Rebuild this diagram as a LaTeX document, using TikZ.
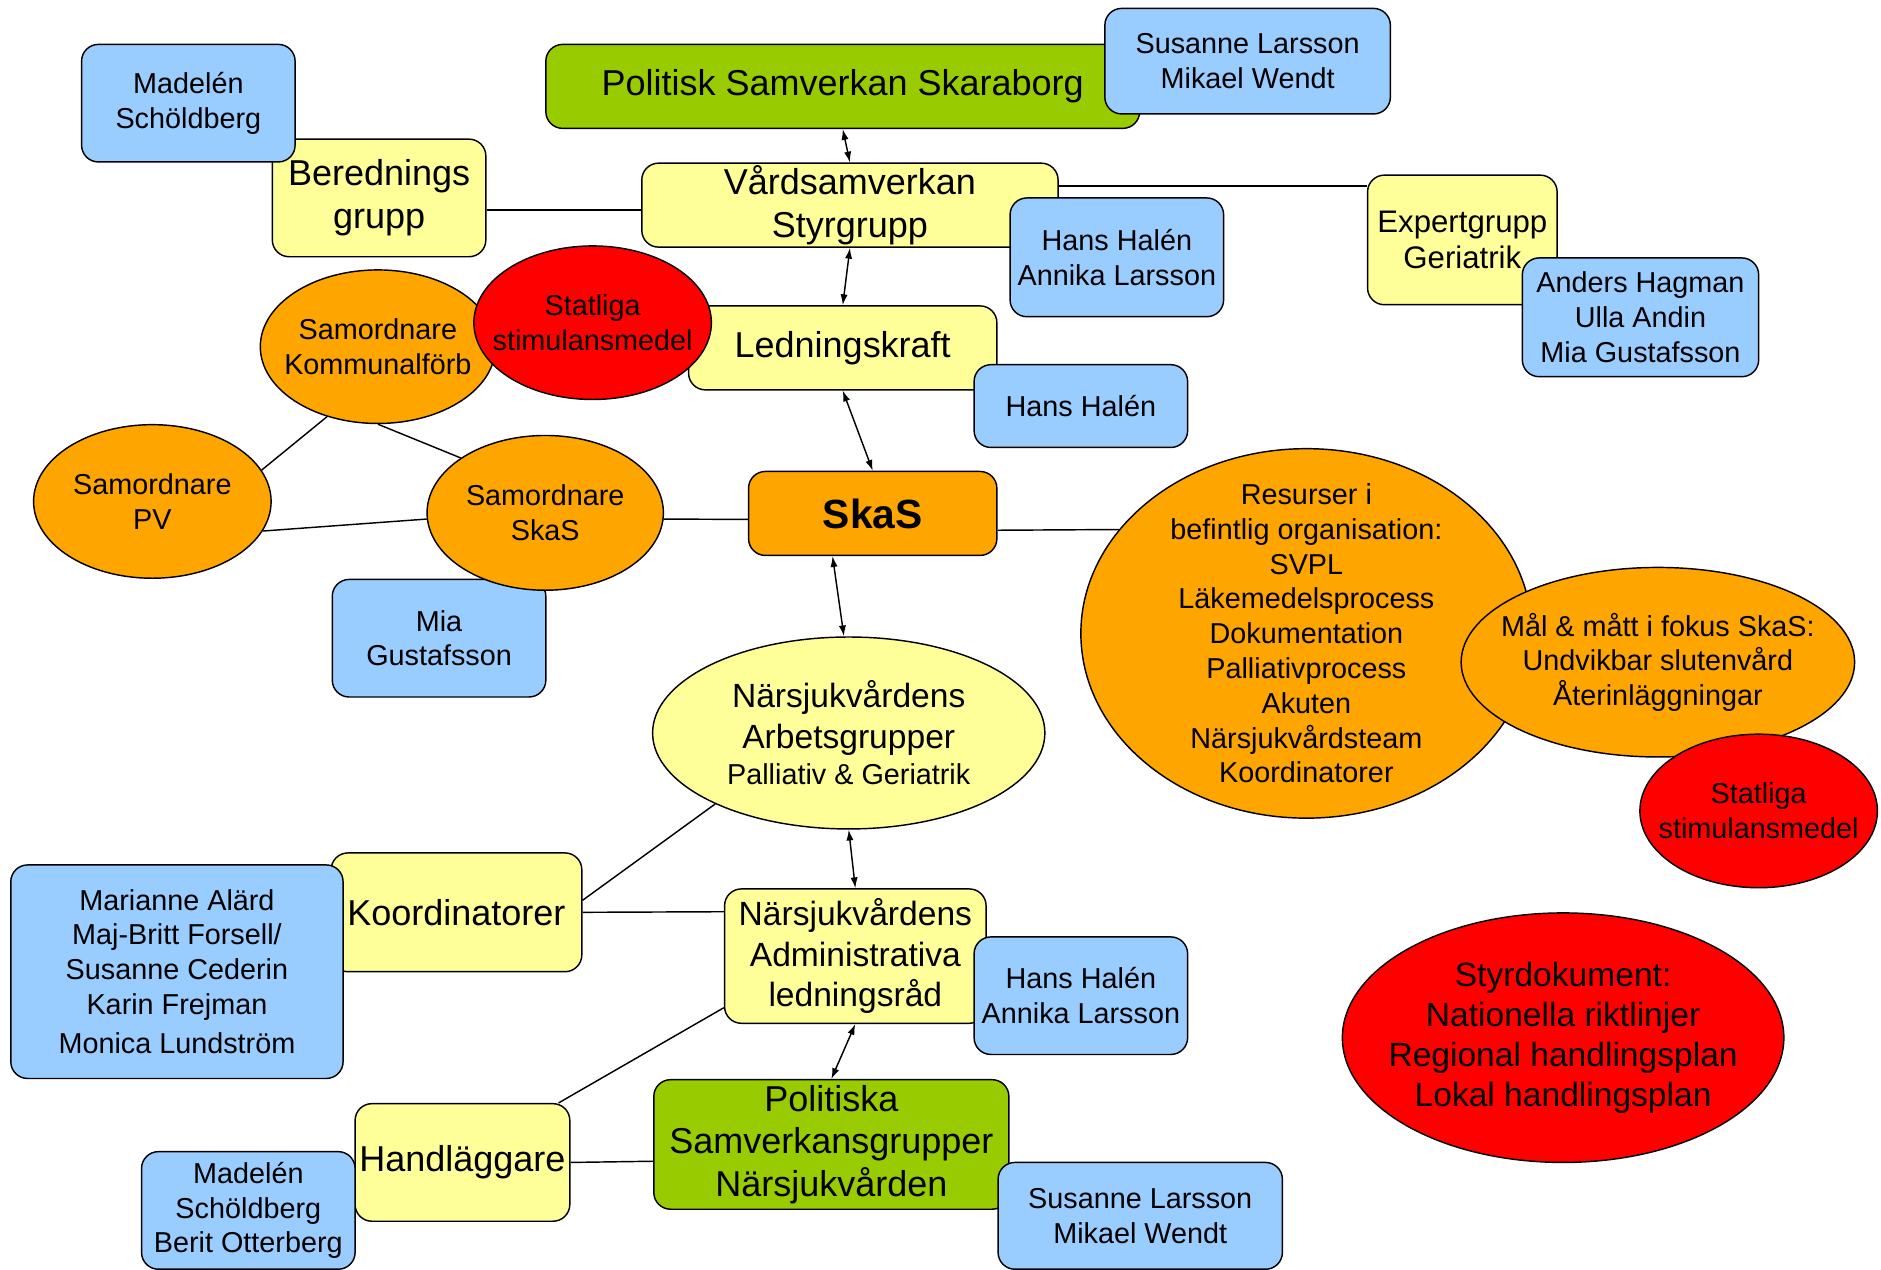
\documentclass[tikz,border=0pt]{standalone}
\usepackage{fontspec}
\setmainfont{Liberation Sans}
\usetikzlibrary{shapes.geometric, arrows.meta}
\definecolor{gul}{HTML}{FFFF99}
\definecolor{bla}{HTML}{99CCFF}
\definecolor{gron}{HTML}{99CC00}
\definecolor{oranj}{HTML}{FFA500}
\definecolor{rod}{HTML}{FF0000}
\newcommand\fliten{\fontsize{24}{29}\selectfont}
\newcommand\fmellan{\fontsize{28}{33.5}\selectfont}
\newcommand\fstor{\fontsize{30}{35.5}\selectfont}
\tikzset{
  ruta/.style={draw, rounded corners=14pt, align=center, inner sep=0pt, line width=1.2pt},
  oval/.style={draw, ellipse, align=center, inner xsep=-40pt, inner ysep=-40pt, line width=1.2pt},
  mått/.style 2 args={minimum width=#1pt, minimum height=#2pt},
  linje/.style={line width=1.2pt},
  pil/.style={<->, >={Latex[length=9pt,width=6pt]}, line width=1.2pt}
}

\begin{document}
\begin{tikzpicture}[x=1pt, y=-1pt]
\useasboundingbox (0,0) rectangle (1568,1058);

% översta nivån
\node[ruta, fill=gron, mått={495}{70}, font=\fstor] (polsam) at (702.5,72) {Politisk Samverkan Skaraborg};
\node[ruta, fill=bla, mått={238}{88}, font=\fliten] (susTop) at (1040,51) {Susanne Larsson\\Mikael Wendt};

% styrgrupp och beredning
\node[ruta, fill=gul, mått={178}{98}, font=\fstor] (bered) at (316,165) {Berednings\\grupp};
\node[ruta, fill=bla, mått={178}{98}, font=\fliten] (madTop) at (157,86) {Madelén\\Schöldberg};
\node[ruta, fill=gul, mått={347}{70}, font=\fstor] (vard) at (708.5,171) {Vårdsamverkan\\Styrgrupp};
\node[ruta, fill=bla, mått={178}{99}, font=\fliten] (hhA1) at (931,214.5) {Hans Halén\\Annika Larsson};
\node[ruta, fill=gul, mått={158}{108}, font=\fontsize{26}{30}\selectfont] (expert) at (1219,200) {Expertgrupp\\Geriatrik};
\node[ruta, fill=bla, mått={197}{99}, font=\fliten] (anders) at (1367.5,264.5) {Anders Hagman\\Ulla Andin\\Mia Gustafsson};

% ledningskraft
\node[ruta, fill=gul, mått={257}{70}, font=\fstor] (ledning) at (702.5,290) {Ledningskraft};
\node[ruta, fill=bla, mått={178}{69}, font=\fliten] (hh2) at (901,338.5) {Hans Halén};
\node[oval, fill=oranj, mått={196}{128}, font=\fliten] (samKom) at (315,289) {Samordnare\\Kommunalförb};
\node[oval, fill=rod, mått={198}{128}, font=\fliten] (stat1) at (494,269) {Statliga\\stimulansmedel};

% samordnare
\node[oval, fill=oranj, mått={198}{128}, font=\fliten] (samPV) at (127,418) {Samordnare\\PV};
\node[ruta, fill=bla, mått={178}{98}, font=\fliten] (mia) at (366,532) {Mia\\Gustafsson};
\node[oval, fill=oranj, mått={197}{129}, font=\fliten] (samSkaS) at (454.5,427.5) {Samordnare\\SkaS};

% SkaS
\node[ruta, fill=oranj, mått={207}{70}, font=\fontsize{34}{40}\selectfont\bfseries] (skas) at (727.5,428) {SkaS};

% resurser och mål
\node[oval, fill=oranj, mått={376}{308}, font=\fliten] (resurser) at (1089,528) {Resurser i\\befintlig organisation:\\SVPL\\Läkemedelsprocess\\Dokumentation\\Palliativprocess\\Akuten\\Närsjukvårdsteam\\Koordinatorer};
\node[oval, fill=oranj, mått={328}{158}, font=\fliten] (mal) at (1382,552) {Mål \& mått i fokus SkaS:\\Undvikbar slutenvård\\Återinläggningar};
\node[oval, fill=rod, mått={198}{128}, font=\fliten] (stat2) at (1466,676) {Statliga\\stimulansmedel};
\node[oval, fill=rod, mått={368}{208}, font=\fmellan] (styr) at (1303,865) {Styrdokument:\\Nationella riktlinjer\\Regional handlingsplan\\Lokal handlingsplan};

% närsjukvården
\node[oval, fill=gul, mått={327}{160}, font=\fmellan] (arbets) at (707.5,611) {Närsjukvårdens\\Arbetsgrupper\\[-3pt]\fliten Palliativ \& Geriatrik};
\node[ruta, fill=gul, mått={218}{112}, font=\fmellan] (adm) at (713,797) {Närsjukvårdens\\Administrativa\\ledningsråd};
\node[ruta, fill=bla, mått={178}{98}, font=\fliten] (hh3) at (901,830) {Hans Halén\\Annika Larsson};
\node[ruta, fill=gul, mått={209}{99}, font=\fstor] (koord) at (380.5,760.5) {Koordinatorer};
\node[ruta, fill=bla, mått={277}{178}, font=\fliten] (marianne) at (147.5,810) {Marianne Alärd\\Maj-Britt Forsell/\\Susanne Cederin\\Karin Frejman\\[4pt]Monica Lundström};
\node[ruta, fill=gron, mått={296}{108}, font=\fstor] (politiska) at (693,954) {Politiska\\Samverkansgrupper\\Närsjukvården};
\node[ruta, fill=bla, mått={237}{89}, font=\fliten] (susBot) at (950.5,1013.5) {Susanne Larsson\\Mikael Wendt};
\node[ruta, fill=gul, mått={179}{98}, font=\fstor] (handl) at (385.5,969) {Handläggare};
\node[ruta, fill=bla, mått={178}{98}, font=\fliten] (madBot) at (207,1009) {Madelén\\Schöldberg\\Berit Otterberg};

% pilar
\draw[pil] (polsam.south) -- (vard.north);
\draw[pil] (vard.south) -- (ledning.north);
\draw[pil] (ledning.south) -- (skas.north);
\draw[pil] ([xshift=-33.5pt]skas.south) -- ([xshift=-4pt]arbets.north);
\draw[pil] (arbets.south) -- (adm.north);
\draw[pil] (adm.south) -- (politiska.north);

% linjer
\draw[linje] ([yshift=-10pt]bered.east) -- ([yshift=-4pt]vard.west);
\draw[linje] ([yshift=16pt]vard.east) -- ([yshift=45pt]expert.west);
\draw[linje] (samKom.234) -- (samPV.16);
\draw[linje] (samKom.270) -- (samSkaS.147);
\draw[linje] (samPV.345) -- (samSkaS.183);
\draw[linje] (samSkaS.357) -- ([yshift=-5pt]skas.west);
\draw[linje] ([yshift=-14pt]skas.east) -- (resurser.151);
\draw[linje] (arbets.208) -- ([yshift=10pt]koord.east);
\draw[linje] (koord.east) -- ([yshift=37pt]adm.west);
\draw[linje] ([yshift=-43pt]adm.west) -- ([xshift=-10pt]handl.north east);
\draw[linje] (handl.east) -- ([yshift=-14pt]politiska.west);
\end{tikzpicture}
\end{document}
